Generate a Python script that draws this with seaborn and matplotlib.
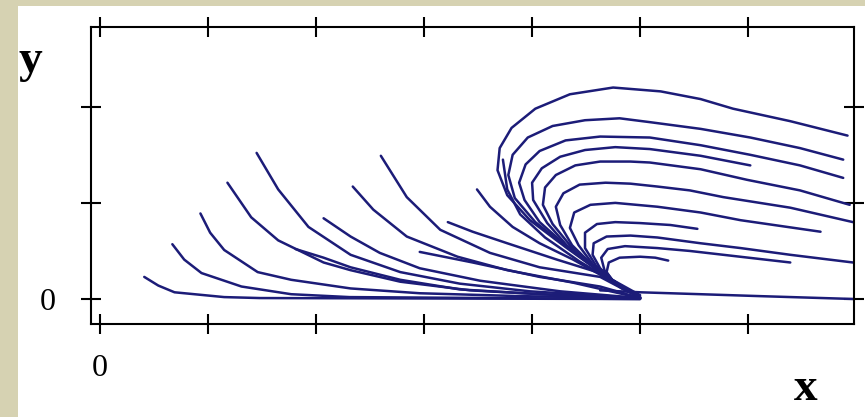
import numpy as np
import pandas as pd
import matplotlib
matplotlib.use("Agg")
import matplotlib.pyplot as plt
from matplotlib.patches import Rectangle
import seaborn as sns

# --- trajectories (x, y in tick units) ---
# left family: come down from the upper left and run into the point (5, 0)
A1_X = [0.41, 0.54, 0.69, 1.15, 1.48, 5.00]
A1_Y = [0.23, 0.14, 0.07, 0.02, 0.01, 0.00]
A2_X = [0.67, 0.78, 0.94, 1.31, 1.77, 2.31, 5.00]
A2_Y = [0.57, 0.41, 0.27, 0.13, 0.05, 0.02, 0.00]
A3_X = [0.93, 1.02, 1.15, 1.46, 1.77, 2.32, 2.96, 3.89, 5.00]
A3_Y = [0.89, 0.69, 0.51, 0.28, 0.20, 0.11, 0.06, 0.03, 0.01]
A4_X = [1.18, 1.40, 1.65, 2.07, 2.32, 2.78, 3.43, 4.26, 5.00]
A4_Y = [1.21, 0.85, 0.61, 0.38, 0.30, 0.18, 0.09, 0.04, 0.01]
A5_X = [1.45, 1.65, 1.93, 2.32, 2.78, 3.33, 3.98, 5.00]
A5_Y = [1.52, 1.14, 0.75, 0.46, 0.28, 0.16, 0.08, 0.01]

B1_X = [1.81, 2.07, 2.32, 2.78, 3.33, 4.07, 5.00]
B1_Y = [0.52, 0.43, 0.33, 0.20, 0.10, 0.05, 0.01]
B2_X = [2.07, 2.32, 2.59, 2.96, 3.52, 4.26, 5.00]
B2_Y = [0.84, 0.65, 0.48, 0.32, 0.19, 0.08, 0.01]
B3_X = [2.34, 2.53, 2.84, 3.31, 3.77, 4.38, 5.00]
B3_Y = [1.17, 0.93, 0.65, 0.44, 0.30, 0.17, 0.01]
B4_X = [2.60, 2.84, 3.15, 3.61, 4.07, 4.63, 5.00]
B4_Y = [1.49, 1.06, 0.72, 0.48, 0.33, 0.23, 0.01]

C1_X = [2.96, 3.45, 4.07, 4.63, 5.00]
C1_Y = [0.49, 0.38, 0.23, 0.13, 0.01]
C2_X = [3.22, 3.45, 3.77, 4.23, 4.63, 5.00]
C2_Y = [0.80, 0.70, 0.58, 0.41, 0.27, 0.04]
C3_X = [3.49, 3.61, 3.82, 4.07, 4.38, 5.00]
C3_Y = [1.14, 0.96, 0.75, 0.58, 0.41, 0.02]
C4_X = [3.73, 3.77, 3.89, 4.12, 4.44, 5.00]
C4_Y = [1.45, 1.14, 0.88, 0.64, 0.39, 0.02]

# right family: leave (5, 0), curl back over and drift off to the right
R1_X = [4.93, 4.63, 4.31, 3.98, 3.77, 3.68, 3.70, 3.81, 4.03, 4.35, 4.75, 5.19, 5.56, 5.86, 6.39, 6.92]
R1_Y = [0.06, 0.28, 0.54, 0.82, 1.08, 1.34, 1.57, 1.78, 1.98, 2.13, 2.20, 2.16, 2.08, 1.98, 1.85, 1.70]
R2_X = [4.91, 4.61, 4.31, 4.03, 3.84, 3.78, 3.82, 3.96, 4.19, 4.49, 4.81, 5.09, 5.56, 6.02, 6.48, 6.88]
R2_Y = [0.07, 0.30, 0.55, 0.80, 1.05, 1.29, 1.50, 1.68, 1.80, 1.86, 1.88, 1.84, 1.77, 1.68, 1.57, 1.45]
R3_X = [4.89, 4.59, 4.31, 4.07, 3.93, 3.88, 3.94, 4.07, 4.31, 4.63, 5.09, 5.56, 6.02, 6.48, 6.88]
R3_Y = [0.08, 0.32, 0.56, 0.80, 1.03, 1.21, 1.40, 1.54, 1.65, 1.69, 1.68, 1.60, 1.50, 1.39, 1.26]
R4_X = [4.87, 4.57, 4.32, 4.14, 4.01, 4.00, 4.09, 4.26, 4.49, 4.77, 5.09, 5.56, 6.02]
R4_Y = [0.09, 0.33, 0.56, 0.79, 1.03, 1.21, 1.36, 1.48, 1.55, 1.58, 1.56, 1.49, 1.39]
R5_X = [4.85, 4.56, 4.35, 4.19, 4.10, 4.12, 4.22, 4.40, 4.63, 4.91, 5.09, 5.56, 5.99, 6.48, 6.94]
R5_Y = [0.10, 0.35, 0.56, 0.78, 0.98, 1.16, 1.29, 1.39, 1.43, 1.43, 1.42, 1.35, 1.24, 1.13, 0.98]
R6_X = [4.83, 4.56, 4.37, 4.26, 4.22, 4.29, 4.44, 4.68, 4.91, 5.16, 5.46, 5.77, 6.39, 6.97]
R6_Y = [0.11, 0.35, 0.56, 0.77, 0.96, 1.10, 1.19, 1.21, 1.20, 1.17, 1.13, 1.06, 0.95, 0.80]
R7_X = [4.81, 4.57, 4.43, 4.35, 4.39, 4.54, 4.77, 5.16, 5.56, 5.93, 6.67]
R7_Y = [0.13, 0.35, 0.56, 0.74, 0.90, 0.98, 1.00, 0.96, 0.90, 0.82, 0.70]
R8_X = [4.80, 4.59, 4.49, 4.49, 4.60, 4.77, 5.00, 5.28, 5.53]
R8_Y = [0.14, 0.35, 0.53, 0.69, 0.78, 0.80, 0.79, 0.77, 0.73]
R9_X = [4.78, 4.63, 4.56, 4.57, 4.69, 4.91, 5.16, 5.56, 5.93, 6.39, 6.97]
R9_Y = [0.15, 0.32, 0.46, 0.58, 0.65, 0.66, 0.64, 0.58, 0.53, 0.46, 0.38]
R10_X = [4.77, 4.67, 4.64, 4.70, 4.86, 5.16, 5.46, 5.77, 6.39]
R10_Y = [0.16, 0.30, 0.43, 0.52, 0.55, 0.53, 0.50, 0.46, 0.38]
R11_X = [4.76, 4.69, 4.71, 4.81, 5.00, 5.14, 5.26]
R11_Y = [0.17, 0.28, 0.38, 0.43, 0.44, 0.43, 0.40]
R12_X = [4.63, 5.00, 5.56, 6.11, 6.98]
R12_Y = [0.09, 0.07, 0.05, 0.03, 0.00]

X_TICKS = [0, 1, 2, 3, 4, 5, 6]
X_TICK_LABELS = ["0", "", "", "", "", "", ""]
Y_TICKS = [0, 1, 2]
Y_TICK_LABELS = ["0", "", ""]

curves = {
    "A1": (A1_X, A1_Y), "A2": (A2_X, A2_Y), "A3": (A3_X, A3_Y),
    "A4": (A4_X, A4_Y), "A5": (A5_X, A5_Y),
    "B1": (B1_X, B1_Y), "B2": (B2_X, B2_Y), "B3": (B3_X, B3_Y), "B4": (B4_X, B4_Y),
    "C1": (C1_X, C1_Y), "C2": (C2_X, C2_Y), "C3": (C3_X, C3_Y), "C4": (C4_X, C4_Y),
    "R1": (R1_X, R1_Y), "R2": (R2_X, R2_Y), "R3": (R3_X, R3_Y), "R4": (R4_X, R4_Y),
    "R5": (R5_X, R5_Y), "R6": (R6_X, R6_Y), "R7": (R7_X, R7_Y), "R8": (R8_X, R8_Y),
    "R9": (R9_X, R9_Y), "R10": (R10_X, R10_Y), "R11": (R11_X, R11_Y),
    "R12": (R12_X, R12_Y),
}

# long table: one row per point, kept in drawing order
rows = []
for nom, (xs, ys) in curves.items():
    for i, (xv, yv) in enumerate(zip(xs, ys)):
        rows.append({"courbe": nom, "ordre": i, "x": xv, "y": yv})
df = pd.DataFrame(rows)

# --- style ---
sns.set_theme(style="white")
plt.rcParams["font.family"] = ["Liberation Serif", "DejaVu Serif"]

NAVY = "#1c1c78"
BEIGE = "#d6d2b2"

fig = plt.figure(figsize=(8.65, 4.17), dpi=100, facecolor=BEIGE)
# white sheet behind the chart
fond = Rectangle((0.0208, 0.0), 0.98, 0.9856, transform=fig.transFigure,
                 facecolor="white", edgecolor="none", zorder=-10)
fig.add_artist(fond)

ax = fig.add_axes([0.1052, 0.2230, 0.8821, 0.7123])
ax.set_zorder(5)
ax.set_facecolor("white")

sns.lineplot(data=df, x="x", y="y", units="courbe", estimator=None, sort=False,
             color=NAVY, linewidth=1.8, solid_joinstyle="round",
             solid_capstyle="round", ax=ax, legend=False)

ax.set_xlim(-0.083, 6.98)
ax.set_ylim(-0.26, 2.83)

for s in ax.spines.values():
    s.set_visible(True)
    s.set_color("black")
    s.set_linewidth(1.5)

ax.set_xticks(X_TICKS)
ax.set_xticklabels(X_TICK_LABELS)
ax.set_yticks(Y_TICKS)
ax.set_yticklabels(Y_TICK_LABELS)
ax.tick_params(axis="both", which="major", direction="inout", length=14.5, width=1.5,
               color="black", bottom=True, top=True, left=True, right=True,
               labelsize=23, labelcolor="black")
ax.tick_params(axis="x", pad=14)
ax.tick_params(axis="y", pad=18)

ax.set_xlabel("")
ax.set_ylabel("")

# axis names, bold, where the picture has them
fig.text(0.0347, 0.828, "y", fontsize=34, fontweight="bold", color="black",
         ha="center", va="baseline")
fig.text(0.932, 0.0408, "x", fontsize=34, fontweight="bold", color="black",
         ha="center", va="baseline")

fig.savefig("out.png", dpi=100, facecolor=BEIGE)
